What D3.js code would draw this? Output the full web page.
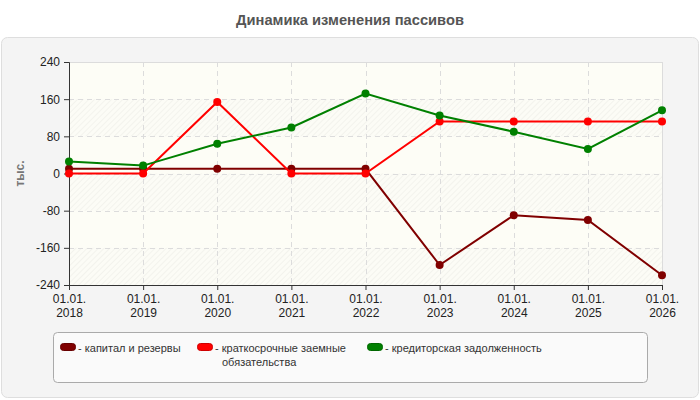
<!DOCTYPE html>
<html>
<head>
<meta charset="utf-8">
<script src="https://cdn.jsdelivr.net/npm/d3@7"></script>
<style>
  body { margin: 0; background: #fff; }
  svg { display: block; font-family: "Liberation Sans", Arial, sans-serif; }
</style>
</head>
<body>
<svg id="chart"></svg>
<script>
const width = 700;
const height = 400;
const margin = { top: 62, right: 38, bottom: 115, left: 69 };

const dates = ["01.01.2018", "01.01.2019", "01.01.2020", "01.01.2021", "01.01.2022",
               "01.01.2023", "01.01.2024", "01.01.2025", "01.01.2026"];
const kapital = [10, 10, 10, 10, 10, -197, -90, -100, -219];
const kratkosrochnye = [0, 0, 154, 0, 0, 112, 112, 112, 112];
const kreditorskaya = [26, 17, 64, 99, 172, 125, 90, 53, 136];
const yTicks = [-240, -160, -80, 0, 80, 160, 240];

const series = [
    { name: "капитал и резервы", values: kapital, color: "#800000" },
    { name: "краткосрочные заемные обязательства", values: kratkosrochnye, color: "#ff0000" },
    { name: "кредиторская задолженность", values: kreditorskaya, color: "#008000" }
];

const svg = d3.select("#chart")
    .attr("width", width)
    .attr("height", height);

// штриховка фона
const defs = svg.append("defs");
const pat = defs.append("pattern")
    .attr("id", "hatch")
    .attr("width", 4).attr("height", 4)
    .attr("patternUnits", "userSpaceOnUse")
    .attr("patternTransform", "rotate(45)");
pat.append("rect").attr("width", 4).attr("height", 4).attr("fill", "#fcfcf6");
pat.append("line").attr("x1", 0).attr("y1", 0).attr("x2", 0).attr("y2", 4)
    .attr("stroke", "#eeeee8").attr("stroke-width", 1.2);

// заголовок
svg.append("text")
    .attr("x", width / 2).attr("y", 25)
    .attr("text-anchor", "middle")
    .attr("font-size", 14.7).attr("font-weight", "bold")
    .attr("fill", "#555")
    .text("Динамика изменения пассивов");

// панель
svg.append("rect")
    .attr("x", 1.5).attr("y", 37.5)
    .attr("width", 697).attr("height", 360)
    .attr("rx", 6)
    .attr("fill", "#f4f4f4").attr("stroke", "#dedede");

const innerW = width - margin.left - margin.right;
const innerH = height - margin.top - margin.bottom;

const x = d3.scalePoint().domain(dates).range([0, innerW]);
const y = d3.scaleLinear().domain([-240, 240]).range([innerH, 0]);

const g = svg.append("g").attr("transform", `translate(${margin.left},${margin.top})`);

g.append("rect").attr("width", innerW).attr("height", innerH).attr("fill", "url(#hatch)");
g.selectAll(".band")
    .data([[160, 240], [0, 80], [-160, -80]])
    .enter().append("rect")
    .attr("x", 0).attr("width", innerW)
    .attr("y", d => y(d[1])).attr("height", d => y(d[0]) - y(d[1]))
    .attr("fill", "#fdfdf6");

// сетка
g.selectAll(".hgrid")
    .data(yTicks)
    .enter().append("line")
    .attr("x1", 0).attr("x2", innerW)
    .attr("y1", d => Math.round(y(d)) + 0.5).attr("y2", d => Math.round(y(d)) + 0.5)
    .attr("stroke", "#dcdcdc").attr("stroke-dasharray", "5,4");
g.selectAll(".vgrid")
    .data(dates)
    .enter().append("line")
    .attr("x1", d => Math.round(x(d)) + 0.5).attr("x2", d => Math.round(x(d)) + 0.5)
    .attr("y1", 0).attr("y2", innerH)
    .attr("stroke", "#dcdcdc").attr("stroke-dasharray", "5,4");

g.append("path")
    .attr("d", `M0,0.5H${innerW + 0.5}V${innerH}`)
    .attr("fill", "none").attr("stroke", "#dcdcdc");

// оси
const yAxis = g.append("g")
    .call(d3.axisLeft(y).tickValues(yTicks).tickSize(5).tickPadding(4)
        .tickFormat(d => String(d)));
const xAxis = g.append("g")
    .attr("transform", `translate(0,${innerH})`)
    .call(d3.axisBottom(x).tickSize(5).tickFormat(""));

[yAxis, xAxis].forEach(a => {
    a.select(".domain").attr("stroke", "#333");
    a.selectAll(".tick line").attr("stroke", "#333");
});
yAxis.selectAll("text").attr("font-size", 12).attr("fill", "#222")
    .attr("font-family", "Liberation Sans, Arial, sans-serif");

xAxis.selectAll(".tick").each(function(d) {
    const t = d3.select(this).append("text")
        .attr("text-anchor", "middle")
        .attr("font-size", 12).attr("fill", "#222")
        .attr("font-family", "Liberation Sans, Arial, sans-serif");
    t.append("tspan").attr("x", 0).attr("y", 18).text(d.slice(0, 6));
    t.append("tspan").attr("x", 0).attr("y", 32).text(d.slice(6));
});

svg.append("text")
    .attr("transform", `translate(24,${margin.top + y(0)}) rotate(-90)`)
    .attr("text-anchor", "middle")
    .attr("font-size", 12).attr("font-weight", "bold")
    .attr("fill", "#777")
    .text("тыс.");

// линии и маркеры
const line = d3.line()
    .x((d, i) => x(dates[i]))
    .y(d => y(d));

series.forEach(s => {
    g.append("path")
        .datum(s.values)
        .attr("fill", "none")
        .attr("stroke", s.color)
        .attr("stroke-width", 2)
        .attr("d", line);
    g.selectAll(null)
        .data(s.values)
        .enter().append("circle")
        .attr("cx", (d, i) => x(dates[i]))
        .attr("cy", d => y(d))
        .attr("r", 4)
        .attr("fill", s.color);
});

// легенда
const legend = svg.append("g");
legend.append("rect")
    .attr("x", 53.5).attr("y", 332.5)
    .attr("width", 594).attr("height", 50)
    .attr("rx", 4)
    .attr("fill", "#fafafa").attr("stroke", "#aaa");

const legendItems = [
    { s: series[0], x: 60, lines: ["капитал и резервы"] },
    { s: series[1], x: 197, lines: ["краткосрочные заемные", "обязательства"] },
    { s: series[2], x: 367, lines: ["кредиторская задолженность"] }
];

legendItems.forEach(it => {
    legend.append("rect")
        .attr("x", it.x + 0.5).attr("y", 343.5)
        .attr("width", 15).attr("height", 7)
        .attr("rx", 3)
        .attr("fill", it.s.color)
        .attr("stroke", d3.color(it.s.color).darker(0.6));
    const t = legend.append("text")
        .attr("font-size", 11).attr("fill", "#333");
    t.append("tspan").attr("x", it.x + 18).attr("y", 352).text("- " + it.lines[0]);
    if (it.lines[1]) {
        t.append("tspan").attr("x", it.x + 25).attr("y", 366).text(it.lines[1]);
    }
});
</script>
</body>
</html>
